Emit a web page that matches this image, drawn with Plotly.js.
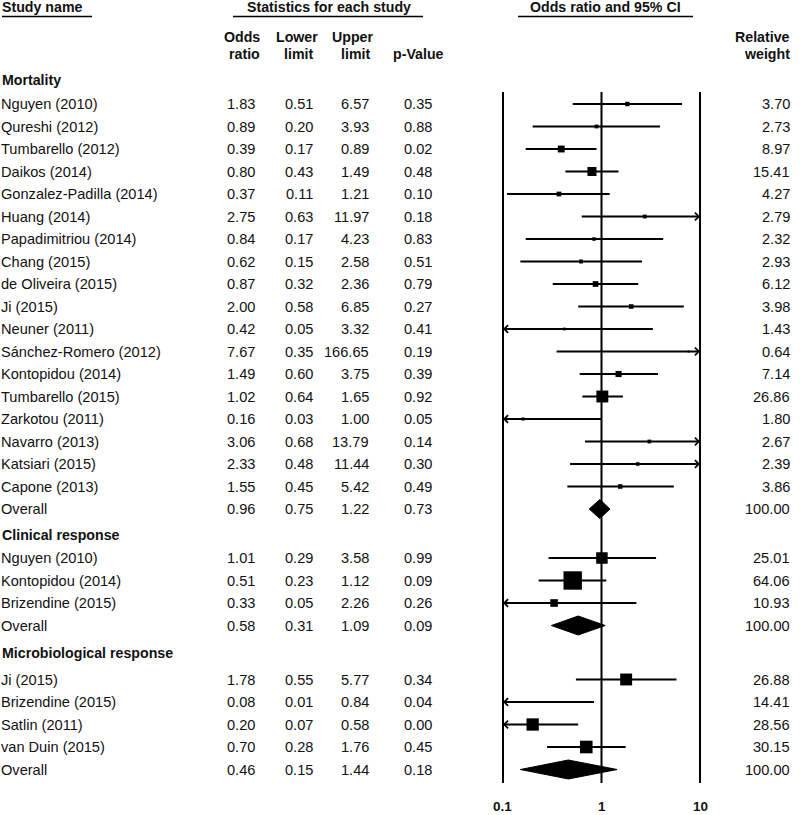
<!DOCTYPE html>
<html><head><meta charset="utf-8">
<script src="https://cdn.plot.ly/plotly-3.0.1.min.js"></script>
<style>html,body{margin:0;padding:0;background:#fff}</style>
</head><body><div id="chart" style="width:800px;height:815px"></div>
<script>
// ---------------- DATA ----------------
const groupNames = ['Mortality', 'Clinical response', 'Microbiological response'];

const mortNames = ['Nguyen (2010)', 'Qureshi (2012)', 'Tumbarello (2012)', 'Daikos (2014)', 'Gonzalez-Padilla (2014)', 'Huang (2014)', 'Papadimitriou (2014)', 'Chang (2015)', 'de Oliveira (2015)', 'Ji (2015)', 'Neuner (2011)', 'Sánchez-Romero (2012)', 'Kontopidou (2014)', 'Tumbarello (2015)', 'Zarkotou (2011)', 'Navarro (2013)', 'Katsiari (2015)', 'Capone (2013)', 'Overall'];
const mortOR     = [1.83, 0.89, 0.39, 0.80, 0.37, 2.75, 0.84, 0.62, 0.87, 2.00, 0.42, 7.67, 1.49, 1.02, 0.16, 3.06, 2.33, 1.55, 0.96];
const mortLower  = [0.51, 0.20, 0.17, 0.43, 0.11, 0.63, 0.17, 0.15, 0.32, 0.58, 0.05, 0.35, 0.60, 0.64, 0.03, 0.68, 0.48, 0.45, 0.75];
const mortUpper  = [6.57, 3.93, 0.89, 1.49, 1.21, 11.97, 4.23, 2.58, 2.36, 6.85, 3.32, 166.65, 3.75, 1.65, 1.00, 13.79, 11.44, 5.42, 1.22];
const mortP      = [0.35, 0.88, 0.02, 0.48, 0.10, 0.18, 0.83, 0.51, 0.79, 0.27, 0.41, 0.19, 0.39, 0.92, 0.05, 0.14, 0.30, 0.49, 0.73];
const mortWeight = [3.70, 2.73, 8.97, 15.41, 4.27, 2.79, 2.32, 2.93, 6.12, 3.98, 1.43, 0.64, 7.14, 26.86, 1.80, 2.67, 2.39, 3.86, 100.00];

const clinNames  = ['Nguyen (2010)', 'Kontopidou (2014)', 'Brizendine (2015)', 'Overall'];
const clinOR     = [1.01, 0.51, 0.33, 0.58];
const clinLower  = [0.29, 0.23, 0.05, 0.31];
const clinUpper  = [3.58, 1.12, 2.26, 1.09];
const clinP      = [0.99, 0.09, 0.26, 0.09];
const clinWeight = [25.01, 64.06, 10.93, 100.00];

const microNames  = ['Ji (2015)', 'Brizendine (2015)', 'Satlin (2011)', 'van Duin (2015)', 'Overall'];
const microOR     = [1.78, 0.08, 0.20, 0.70, 0.46];
const microLower  = [0.55, 0.01, 0.07, 0.28, 0.15];
const microUpper  = [5.77, 0.84, 0.58, 1.76, 1.44];
const microP      = [0.34, 0.04, 0.00, 0.45, 0.18];
const microWeight = [26.88, 14.41, 28.56, 30.15, 100.00];

const tickVals = [0.1, 1, 10];
const tickText = ['0.1', '1', '10'];

// ---------------- LAYOUT CONSTANTS ----------------
const W = 800, H = 815;
const rowStep = 22.5;
const sectionHeaderY = [80, 535, 653];
const sectionFirstY = [104, 558, 679.5];
const plotPx0 = 503, plotPx1 = 700;   // pixel positions of 0.1 and 10
const pad = 0.03;                     // decades of padding on each side
const FONT = 'Liberation Sans, Arial, sans-serif';
const TXT = '#111';
const regSize = 14.6, boldSize = 14.2;
const colRight = {or: 255, lo: 313, hi: 369, p: 432, w: 790};
const sizeK = 2.3;
const diamondHalf = 9.5;

const groups = [
  {names: mortNames, or: mortOR, lo: mortLower, hi: mortUpper, p: mortP, w: mortWeight},
  {names: clinNames, or: clinOR, lo: clinLower, hi: clinUpper, p: clinP, w: clinWeight},
  {names: microNames, or: microOR, lo: microLower, hi: microUpper, p: microP, w: microWeight}
];

const xMin = tickVals[0], xMax = tickVals[tickVals.length - 1];
const lMin = Math.log10(xMin), lMax = Math.log10(xMax);
const pxPerDec = (plotPx1 - plotPx0) / (lMax - lMin);
const dom0 = (plotPx0 - pad * pxPerDec) / W;
const dom1 = (plotPx1 + pad * pxPerDec) / W;
const clamp = v => Math.min(xMax, Math.max(xMin, v));

const traces = [];
const annotations = [];
const shapes = [];

function txt(text, xPx, y, anchor, bold, size) {
  annotations.push({
    text: bold ? '<b>' + text + '</b>' : text,
    xref: 'paper', yref: 'y', x: xPx / W, y: y,
    xanchor: anchor, yanchor: 'middle', showarrow: false,
    borderpad: 0, borderwidth: 0,
    font: {family: FONT, size: size || (bold ? boldSize : regSize), color: TXT}
  });
}

// Column headers
txt('Study name', 2, 7, 'left', true);
txt('Statistics for each study', 329, 7, 'center', true);
txt('Odds ratio and 95% CI', 605, 7, 'center', true);
txt('Odds', 260, 37, 'right', true);
txt('ratio', 260, 54, 'right', true);
txt('Lower', 297, 37, 'center', true);
txt('limit', 298, 54, 'center', true);
txt('Upper', 373, 37, 'right', true);
txt('limit', 370, 54, 'right', true);
txt('p-Value', 418, 54, 'center', true);
txt('Relative', 790, 37, 'right', true);
txt('weight', 790, 54, 'right', true);
[[2, 92], [233, 423], [518, 693]].forEach(([a, b]) => shapes.push({
  type: 'line', xref: 'paper', yref: 'y', x0: a / W, x1: b / W, y0: 16.5, y1: 16.5,
  line: {color: '#000', width: 1.6}
}));

let firstRowY = null, lastRowY = null;
const sqX = [], sqY = [], sqS = [];

groups.forEach((g, gi) => {
  txt(groupNames[gi], 2, sectionHeaderY[gi], 'left', true);
  const ciX = [], ciY = [];
  g.names.forEach((name, i) => {
    const y = sectionFirstY[gi] + i * rowStep;
    if (firstRowY === null) firstRowY = y;
    lastRowY = y;
    txt(name, 1, y, 'left', false);
    txt(g.or[i].toFixed(2), colRight.or, y, 'right', false);
    txt(g.lo[i].toFixed(2), colRight.lo, y, 'right', false);
    txt(g.hi[i].toFixed(2), colRight.hi, y, 'right', false);
    txt(g.p[i].toFixed(2), colRight.p, y, 'right', false);
    txt(g.w[i].toFixed(2), colRight.w, y, 'right', false);
    const isOverall = (i === g.names.length - 1);
    if (isOverall) {
      traces.push({
        type: 'scatter', mode: 'lines', fill: 'toself', fillcolor: '#000',
        x: [g.lo[i], g.or[i], g.hi[i], g.or[i], g.lo[i]],
        y: [y, y - diamondHalf, y, y + diamondHalf, y],
        line: {color: '#000', width: 1}, hoverinfo: 'skip'
      });
    } else {
      ciX.push(clamp(g.lo[i]), clamp(g.hi[i]), null);
      ciY.push(y, y, null);
      sqX.push(g.or[i]); sqY.push(y); sqS.push(Math.max(2, sizeK * Math.sqrt(g.w[i])));
      if (g.lo[i] < xMin) annotations.push({
        x: lMin, y: y, xref: 'x', yref: 'y', ax: 14, ay: 0, text: '', showarrow: true,
        arrowhead: 4, arrowsize: 1.25, arrowwidth: 1.2, arrowcolor: '#000'
      });
      if (g.hi[i] > xMax) annotations.push({
        x: lMax, y: y, xref: 'x', yref: 'y', ax: -14, ay: 0, text: '', showarrow: true,
        arrowhead: 4, arrowsize: 1.25, arrowwidth: 1.2, arrowcolor: '#000'
      });
    }
  });
  traces.push({
    type: 'scatter', mode: 'lines', x: ciX, y: ciY,
    line: {color: '#000', width: 2.2}, hoverinfo: 'skip'
  });
});

traces.push({
  type: 'scatter', mode: 'markers', x: sqX, y: sqY,
  marker: {symbol: 'square', size: sqS, color: '#000', opacity: 1, line: {width: 0}},
  hoverinfo: 'skip'
});

// reference vertical lines at tick values
const refX = [], refY = [];
const lineTop = firstRowY - 12, lineBottom = lastRowY + 13.5;
tickVals.forEach(t => { refX.push(t, t, null); refY.push(lineTop, lineBottom, null); });
traces.unshift({
  type: 'scatter', mode: 'lines', x: refX, y: refY,
  line: {color: '#000', width: 2}, hoverinfo: 'skip'
});

// tick labels
tickVals.forEach((t, i) => annotations.push({
  text: '<b>' + tickText[i] + '</b>', xref: 'x', yref: 'y', x: Math.log10(t), y: 806,
  xanchor: 'center', yanchor: 'middle', showarrow: false, borderpad: 0,
  font: {family: FONT, size: 13.5, color: TXT}
}));

const layout = {
  width: W, height: H,
  margin: {l: 0, r: 0, t: 0, b: 0},
  paper_bgcolor: '#fff', plot_bgcolor: '#fff',
  showlegend: false,
  xaxis: {type: 'log', range: [lMin - pad, lMax + pad], domain: [dom0, dom1], visible: false, fixedrange: true},
  yaxis: {range: [H, 0], domain: [0, 1], visible: false, fixedrange: true},
  annotations: annotations,
  shapes: shapes
};

Plotly.newPlot('chart', traces, layout, {displayModeBar: false, staticPlot: true});
</script>
</body></html>
